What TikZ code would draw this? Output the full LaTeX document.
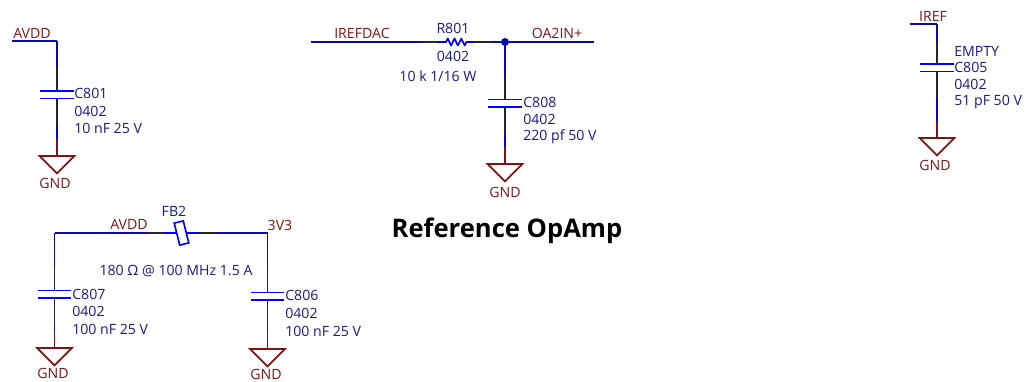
\documentclass[tikz,border=0pt]{standalone}
\usepackage{fontspec}
\setmainfont{Open Sans}
\definecolor{netblue}{RGB}{10,10,165}
\definecolor{partblue}{RGB}{0,0,255}
\definecolor{textblue}{RGB}{25,25,135}
\definecolor{symred}{RGB}{128,20,20}
\tikzset{
	net/.style={netblue,line width=1.25pt},
	lead/.style={black!85,line width=1.25pt},
	part/.style={partblue,line width=1.25pt},
	gnd/.style={symred,line width=1.25pt},
	val/.style={textblue,inner sep=0pt,font=\fontsize{10.6}{12}\selectfont},
	sig/.style={symred,inner sep=0pt,font=\fontsize{10.6}{12}\selectfont}
}
% Kondensator gegen Masse: Name, x, y oben, y Platte, y Masse
\newcommand{\capgnd}[5]{
	\coordinate (#1top) at (#2,#3);
	\coordinate (#1a) at (#2,#4-23);
	\coordinate (#1b) at (#2,#4);
	\coordinate (#1c) at (#2,#4+7.5);
	\coordinate (#1d) at (#2,#4+34);
	\coordinate (#1e) at (#2,#5-17);
	\coordinate (#1g) at (#2,#5);
	\draw[net] (#1top) -- (#1a);
	\draw[lead] (#1a) -- (#1b);
	\draw[part] ([xshift=-12.4pt]#1b) -- ([xshift=12.4pt]#1b);
	\draw[part] ([xshift=-12.4pt]#1c) -- ([xshift=12.4pt]#1c);
	\draw[lead] (#1c) -- (#1d);
	\draw[net] (#1d) -- (#1e);
	\draw[gnd] (#1e) -- (#1g);
	\draw[gnd,line join=miter] ([xshift=-13pt]#1g) -- ([xshift=13pt]#1g) -- ([yshift=-13pt]#1g) -- cycle;
}
\begin{document}
\begin{tikzpicture}[x=0.75pt,y=-0.75pt]
	\useasboundingbox (0,0) rectangle (1025,382);

	% C801
	\capgnd{cA}{57}{41}{91}{156}
	\coordinate (avddA) at (12,41);
	\draw[net] (avddA) -- (cAtop);
	\node[sig] (avddlabelA) at (32,33) {AVDD};
	\node[val,anchor=west] (cAname) at (74,93) {C801};
	\node[val,anchor=west] (cAsize) at (74,111) {0402};
	\node[val,anchor=west] (cAval) at (74,128) {10 nF 25 V};
	\node[sig] (cAgnd) at (55,183) {GND};

	% IREFDAC, R801, OA2IN+
	\capgnd{cB}{505}{42}{99.5}{164}
	\coordinate (irefdac) at (311,42);
	\coordinate (rleadA) at (421,42);
	\coordinate (rA) at (438,42);
	\coordinate (rB) at (474,42);
	\coordinate (rleadB) at (492,42);
	\coordinate (oain) at (594,42);
	\draw[net] (irefdac) -- (rleadA);
	\draw[lead] (rleadA) -- (rA);
	\draw[part,line join=round] (rA) -- ++(8,0) -- ++(1.7,-3.5) -- ++(3.4,7) -- ++(3.4,-7) -- ++(3.4,7) -- ++(3.4,-7) -- ++(3.4,7) -- ++(1.7,-3.5) -- (rB);
	\draw[lead] (rB) -- (rleadB);
	\draw[net] (rleadB) -- (oain);
	\fill[netblue] (cBtop) circle (3pt);
	\node[sig] (irefdaclabel) at (362,33) {IREFDAC};
	\node[sig] (oainlabel) at (557,33) {OA2IN+};
	\node[val] (rname) at (453,28) {R801};
	\node[val] (rsize) at (453,56) {0402};
	\node[val] (rval) at (438,76) {10 k 1/16 W};
	\node[val,anchor=west] (cBname) at (523,102) {C808};
	\node[val,anchor=west] (cBsize) at (523,119) {0402};
	\node[val,anchor=west] (cBval) at (523,137) {220 pf 50 V};
	\node[sig] (cBgnd) at (505,192) {GND};

	% C805
	\capgnd{cE}{937}{24}{64}{138}
	\coordinate (iref) at (910,24);
	\draw[net] (iref) -- (cEtop);
	\node[sig] (ireflabel) at (933,16) {IREF};
	\node[val,anchor=west] (cEempty) at (954,51) {EMPTY};
	\node[val,anchor=west] (cEname) at (954,67) {C805};
	\node[val,anchor=west] (cEsize) at (954,84) {0402};
	\node[val,anchor=west] (cEval) at (954,102) {51 pF 50 V};
	\node[sig] (cEgnd) at (935,165) {GND};

	% C807, FB2, C806
	\capgnd{cC}{54.5}{233}{290.5}{348}
	\capgnd{cD}{267.5}{233}{292.5}{349}
	\node[draw=partblue,line width=1.25pt,rotate=14,inner sep=0pt,minimum width=7pt,minimum height=17pt] (fb) at (181.5,233) {};
	\coordinate (fbleadA) at (147,233);
	\coordinate (fbA) at (164,233);
	\coordinate (fbB) at (200,233);
	\coordinate (fbleadB) at (216,233);
	\draw[net] (cCtop) -- (fbleadA);
	\draw[lead] (fbleadA) -- (fbA);
	\draw[part] (fbA) -- (fb);
	\draw[part] (fb) -- (fbB);
	\draw[lead] (fbB) -- (fbleadB);
	\draw[net] (fbleadB) -- (cDtop);
	\node[sig] (avddlabelB) at (129,224) {AVDD};
	\node[sig] (vcclabel) at (280,225) {3V3};
	\node[val] (fbname) at (174,211) {FB2};
	\node[val] (fbval) at (176,271) {180 Ω @ 100 MHz 1.5 A};
	\node[val,anchor=west] (cCname) at (72,294) {C807};
	\node[val,anchor=west] (cCsize) at (72,311) {0402};
	\node[val,anchor=west] (cCval) at (72,329) {100 nF 25 V};
	\node[val,anchor=west] (cDname) at (285,295) {C806};
	\node[val,anchor=west] (cDsize) at (285,313) {0402};
	\node[val,anchor=west] (cDval) at (285,331) {100 nF 25 V};
	\node[sig] (cCgnd) at (53,373.5) {GND};
	\node[sig] (cDgnd) at (266,374.5) {GND};

	% Titel
	\node[inner sep=0pt,font=\fontsize{19.2}{22}\selectfont\bfseries] (title) at (507,231) {Reference OpAmp};
\end{tikzpicture}
\end{document}
